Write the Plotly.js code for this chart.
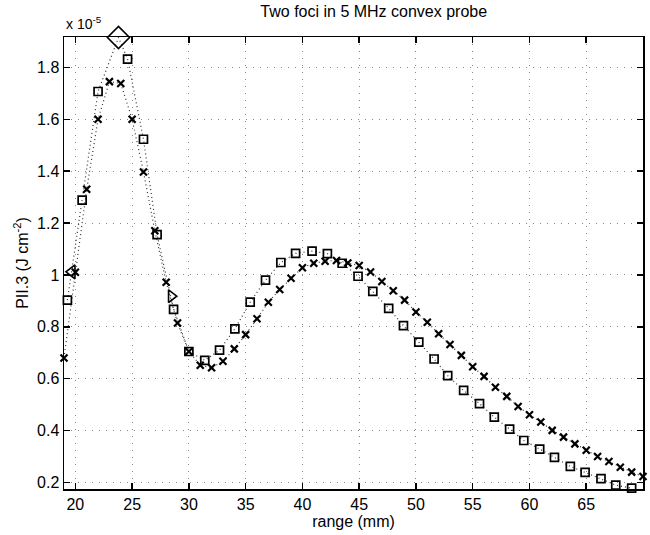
<!DOCTYPE html>
<html>
<head>
<meta charset="utf-8">
<script src="https://cdn.plot.ly/plotly-3.0.1.min.js"></script>
<style>html,body{margin:0;padding:0;background:#fff;}#chart{width:650px;height:535px;}</style>
</head>
<body>
<div id="chart"></div>
<script>
// range (mm) and PII.3 values in units of 1e-5 J cm^-2
const crossRange = [19,20,21,22,23,24,25,26,27,28,29,30,31,32,33,34,35,36,37,38,39,40,41,42,43,44,45,46,47,48,49,50,51,52,53,54,55,56,57,58,59,60,61,62,63,64,65,66,67,68,69,70];
const crossPII = [0.68,1.01,1.33,1.60,1.745,1.738,1.60,1.397,1.17,0.972,0.815,0.705,0.652,0.642,0.667,0.715,0.77,0.831,0.895,0.944,0.987,1.028,1.045,1.053,1.056,1.046,1.036,1.011,0.975,0.939,0.903,0.857,0.818,0.773,0.732,0.69,0.646,0.609,0.567,0.532,0.493,0.461,0.433,0.401,0.375,0.349,0.324,0.300,0.281,0.259,0.240,0.223];

const squareRange = [19.3,20.6,22.0,24.6,26.0,27.2,28.65,30.0,31.4,32.7,34.05,35.4,36.75,38.1,39.4,40.85,42.2,43.5,44.9,46.2,47.6,48.9,50.25,51.6,52.8,54.2,55.6,56.9,58.25,59.5,60.9,62.2,63.6,64.9,66.3,67.6,69.0];
const squarePII = [0.903,1.288,1.707,1.832,1.523,1.155,0.867,0.705,0.671,0.71,0.792,0.895,0.98,1.048,1.083,1.092,1.082,1.045,0.995,0.937,0.871,0.805,0.741,0.676,0.612,0.555,0.504,0.452,0.406,0.362,0.329,0.297,0.262,0.239,0.215,0.19,0.178];

const peakRange = [23.8];
const peakPII = [1.915];
const leftEdgeRange = [19.7];
const leftEdgePII = [1.012];
const rightEdgeRange = [28.45];
const rightEdgePII = [0.918];

const xTicks = [20,25,30,35,40,45,50,55,60,65];
const yTicks = [0.2,0.4,0.6,0.8,1,1.2,1.4,1.6,1.8];
const yTickText = ['0.2','0.4','0.6','0.8','1','1.2','1.4','1.6','1.8'];

// square curve line passes through the peak marker
const sqLine = squareRange.map((r,i)=>[r,squarePII[i]]).concat([[peakRange[0],peakPII[0]]]).sort((a,b)=>a[0]-b[0]);

const lineStyle = {color:'#333', width:1.2, dash:'1px,3px'};
const traces = [
  {x: crossRange, y: crossPII, mode:'lines', line: lineStyle, hoverinfo:'skip'},
  {x: sqLine.map(p=>p[0]), y: sqLine.map(p=>p[1]), mode:'lines', line: lineStyle, hoverinfo:'skip'},
  {x: crossRange, y: crossPII, mode:'markers', marker:{symbol:'x-thin', size:7, color:'#000', line:{width:2.2, color:'#000'}}, cliponaxis:false},
  {x: squareRange, y: squarePII, mode:'markers', marker:{symbol:'square-open', size:8, color:'#000', line:{width:1.7, color:'#000'}}, cliponaxis:false},
  {x: peakRange, y: peakPII, mode:'markers', marker:{symbol:'diamond-open', size:17, color:'#000', line:{width:1.6, color:'#000'}}, cliponaxis:false},
  {x: leftEdgeRange, y: leftEdgePII, mode:'markers', marker:{symbol:'triangle-left-open', size:12, color:'#000', line:{width:1.6, color:'#000'}}, cliponaxis:false},
  {x: rightEdgeRange, y: rightEdgePII, mode:'markers', marker:{symbol:'triangle-right-open', size:11, color:'#000', line:{width:1.6, color:'#000'}}, cliponaxis:false}
];

const axisCommon = {
  showline:true, linecolor:'#000', linewidth:1.5, mirror:'ticks',
  ticks:'inside', ticklen:6, tickcolor:'#000', tickwidth:1.5,
  showgrid:true, gridcolor:'#888', griddash:'1px,6px', gridwidth:1,
  zeroline:false, tickfont:{family:'Liberation Sans, Arial, sans-serif', size:16, color:'#000'}
};

const layout = {
  width:650, height:535,
  margin:{l:64, r:7, t:37, b:46},
  paper_bgcolor:'#fff', plot_bgcolor:'#fff',
  showlegend:false,
  font:{family:'Liberation Sans, Arial, sans-serif', color:'#000'},
  title:{text:'Two foci in 5 MHz convex probe', x:0.575, xanchor:'center', y:0.99, yanchor:'top', font:{size:16, color:'#000'}},
  xaxis: Object.assign({}, axisCommon, {range:[19,70], tickvals:xTicks, ticktext:xTicks.map(String),
    title:{text:'range (mm)', standoff:2, font:{size:16, color:'#000'}}}),
  yaxis: Object.assign({}, axisCommon, {range:[0.175,1.917], tickvals:yTicks, ticktext:yTickText,
    title:{text:'PII.3 (J cm<sup>-2</sup>)', standoff:4, font:{size:16, color:'#000000'}}}),
  annotations:[
    {text:'x 10<sup>-5</sup>', xref:'paper', yref:'paper', x:0, y:1, xanchor:'left', yanchor:'bottom', yshift:3, showarrow:false, font:{size:14, color:'#000'}}
  ]
};

Plotly.newPlot('chart', traces, layout, {displayModeBar:false, staticPlot:true});
</script>
</body>
</html>
